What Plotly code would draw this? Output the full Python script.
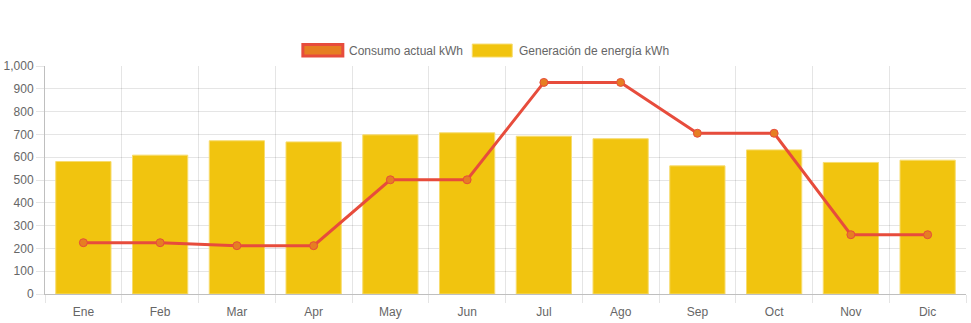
import plotly.graph_objects as go

months = ["Ene", "Feb", "Mar", "Apr", "May", "Jun", "Jul", "Ago", "Sep", "Oct", "Nov", "Dic"]
generacion = [581, 609, 672, 667, 698, 707, 692, 681, 562, 632, 577, 587]
consumo = [225, 225, 212, 212, 501, 501, 928, 928, 705, 705, 260, 260]
series_names = ["Consumo actual kWh", "Generación de energía kWh"]
y_ticks = [0, 100, 200, 300, 400, 500, 600, 700, 800, 900, 1000]

W, H = 971, 323
L, R, T, B = 44.5, 966, 66, 294.5

FONT = "Liberation Sans, Arial, sans-serif"
TXT = "#666666"
GRID = "rgba(0,0,0,0.1)"
AXIS = "rgba(0,0,0,0.25)"

fig = go.Figure()
fig.add_trace(go.Bar(
    x=months, y=generacion, name=series_names[1],
    marker=dict(color="#f1c40f", line=dict(color="#f7dc6f", width=1)),
    showlegend=False,
))
fig.add_trace(go.Scatter(
    x=months, y=consumo, name=series_names[0], mode="lines+markers",
    line=dict(color="#e74c3c", width=3),
    marker=dict(color="#e67e22", size=8, line=dict(color="#e74c3c", width=1)),
    showlegend=False,
))

def px_x(p):
    return (p - L) / (R - L)

def px_y(p):
    return (B - p) / (B - T)

shapes = [
    dict(type="rect", xref="paper", yref="paper",
         x0=px_x(302.5), x1=px_x(342.5), y0=px_y(56), y1=px_y(44.5),
         fillcolor="#e67e22", line=dict(color="#e74c3c", width=3)),
    dict(type="rect", xref="paper", yref="paper",
         x0=px_x(472), x1=px_x(512), y0=px_y(57), y1=px_y(44),
         fillcolor="#f1c40f", line=dict(color="#f7dc6f", width=1)),
]
annotations = [
    dict(xref="paper", yref="paper", x=px_x(347), y=px_y(50.5), xanchor="left", yanchor="middle",
         text=series_names[0], showarrow=False, font=dict(family=FONT, size=12, color=TXT)),
    dict(xref="paper", yref="paper", x=px_x(517), y=px_y(50.5), xanchor="left", yanchor="middle",
         text=series_names[1], showarrow=False, font=dict(family=FONT, size=12, color=TXT)),
]

fig.update_layout(
    width=W, height=H,
    margin=dict(l=L, r=W - R, t=T, b=H - B, pad=0),
    paper_bgcolor="white", plot_bgcolor="white",
    bargap=0.28,
    font=dict(family=FONT, size=12, color=TXT),
    shapes=shapes, annotations=annotations,
    xaxis=dict(
        type="category", tickson="boundaries", ticks="outside", ticklen=8,
        tickcolor=GRID, showgrid=True, gridcolor=GRID, gridwidth=1,
        showline=True, linecolor=AXIS, linewidth=1,
        tickfont=dict(family=FONT, size=12, color=TXT),
        ticklabelstandoff=7,
        range=[-0.5, 11.5], fixedrange=True,
    ),
    yaxis=dict(
        range=[0, 1000], tickvals=y_ticks, tickformat=",",
        ticks="outside", ticklen=8, tickcolor=GRID,
        showgrid=True, gridcolor=GRID, gridwidth=1,
        showline=True, linecolor=AXIS, linewidth=1, zeroline=False,
        tickfont=dict(family=FONT, size=12, color=TXT),
        fixedrange=True,
    ),
)

fig.write_html("out.html")
